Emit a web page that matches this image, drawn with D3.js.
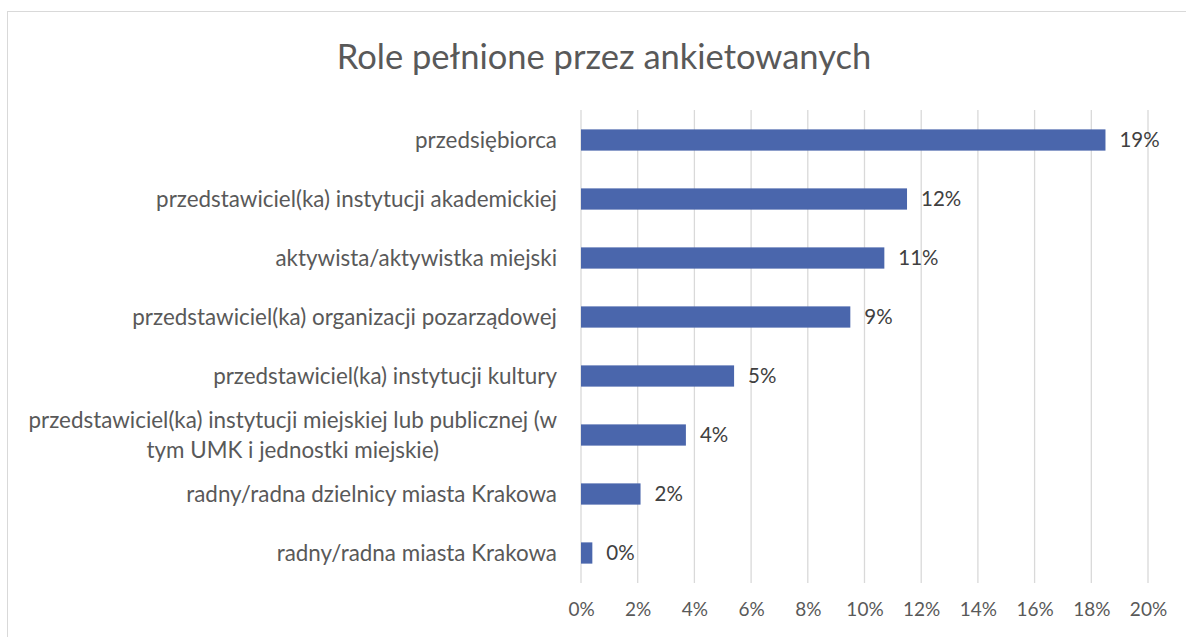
<!DOCTYPE html>
<html>
<head>
<meta charset="utf-8">
<script src="https://cdn.jsdelivr.net/npm/d3@7"></script>
<style>
  body { margin: 0; background: #fff; }
  text { font-family: Lato, "Open Sans", sans-serif; }
</style>
</head>
<body>
<div id="chart"></div>
<script>
// dane
const kategorie = [
  "przedsiębiorca",
  "przedstawiciel(ka) instytucji akademickiej",
  "aktywista/aktywistka miejski",
  "przedstawiciel(ka) organizacji pozarządowej",
  "przedstawiciel(ka) instytucji kultury",
  "przedstawiciel(ka) instytucji miejskiej lub publicznej (w tym UMK i jednostki miejskie)",
  "radny/radna dzielnicy miasta Krakowa",
  "radny/radna miasta Krakowa"
];
const wartosci = [0.185, 0.115, 0.107, 0.095, 0.054, 0.037, 0.021, 0.004];
const etykiety = ["19%", "12%", "11%", "9%", "5%", "4%", "2%", "0%"];
const ticki = [0, 0.02, 0.04, 0.06, 0.08, 0.10, 0.12, 0.14, 0.16, 0.18, 0.20];

const W = 1186, H = 637;
const svg = d3.select("#chart").append("svg")
  .attr("width", W).attr("height", H);

// ramka
svg.append("rect")
  .attr("x", 7.5).attr("y", 11.5)
  .attr("width", 1200).attr("height", 700)
  .attr("fill", "none").attr("stroke", "#d9d9d9");

const x = d3.scaleLinear().domain([0, 0.20]).range([581, 1148]);
const y = d3.scaleBand().domain(kategorie).range([110.5, 582.5])
  .paddingInner(0.64).paddingOuter(0.32);

// linie siatki
svg.append("g").selectAll("line")
  .data(ticki)
  .join("line")
  .attr("x1", d => x(d)).attr("x2", d => x(d))
  .attr("y1", 110).attr("y2", 583)
  .attr("stroke", "#d9d9d9").attr("stroke-width", 1.3);

// oś X
const osX = svg.append("g")
  .attr("transform", "translate(0,583)")
  .call(d3.axisBottom(x).tickValues(ticki).tickFormat(d3.format(".0%")).tickSize(0).tickPadding(20));
osX.select(".domain").remove();
osX.selectAll("text").attr("font-size", 19).attr("fill", "#595959")
  .style("font-family", "Lato, sans-serif");

// słupki
svg.append("g").selectAll("rect")
  .data(kategorie)
  .join("rect")
  .attr("x", x(0))
  .attr("y", d => y(d))
  .attr("width", (d, i) => x(wartosci[i]) - x(0))
  .attr("height", y.bandwidth())
  .attr("fill", "#4a66ac");

// etykiety wartości
svg.append("g").selectAll("text")
  .data(kategorie)
  .join("text")
  .attr("x", (d, i) => x(wartosci[i]) + 14)
  .attr("y", d => y(d) + y.bandwidth() / 2)
  .attr("dy", "0.36em")
  .attr("font-size", 20.5)
  .attr("fill", "#404040")
  .text((d, i) => etykiety[i]);

// etykiety kategorii (z zawijaniem)
const maxSzer = 560;
const kat = svg.append("g").selectAll("text")
  .data(kategorie)
  .join("text")
  .attr("font-size", 22.4)
  .attr("fill", "#595959");

kat.each(function(d) {
  const t = d3.select(this);
  const slowa = d.split(" ");
  const linie = [];
  let biez = [];
  const probe = t.append("tspan");
  slowa.forEach(s => {
    biez.push(s);
    probe.text(biez.join(" "));
    if (probe.node().getComputedTextLength() > maxSzer && biez.length > 1) {
      biez.pop();
      linie.push(biez.join(" "));
      biez = [s];
    }
  });
  linie.push(biez.join(" "));
  probe.remove();
  const lh = 30;
  const cy = y(d) + y.bandwidth() / 2;
  if (linie.length === 1) {
    t.append("tspan").attr("x", 557).attr("y", cy).attr("dy", "0.36em")
      .attr("text-anchor", "end").text(linie[0]);
  } else {
    // blok wyrównany do prawej, linie wyśrodkowane
    const szer = linie.map(l => {
      const s = t.append("tspan").text(l);
      const w = s.node().getComputedTextLength();
      s.remove();
      return w;
    });
    const srodek = 557 - d3.max(szer) / 2;
    linie.forEach((l, k) => {
      t.append("tspan").attr("x", srodek)
        .attr("y", cy + (k - (linie.length - 1) / 2) * lh)
        .attr("dy", "0.36em")
        .attr("text-anchor", "middle").text(l);
    });
  }
});

// tytuł
svg.append("text")
  .attr("x", 604).attr("y", 57)
  .attr("dy", "0.36em")
  .attr("text-anchor", "middle")
  .attr("font-size", 34.5)
  .attr("fill", "#595959")
  .text("Role pełnione przez ankietowanych");
</script>
</body>
</html>
